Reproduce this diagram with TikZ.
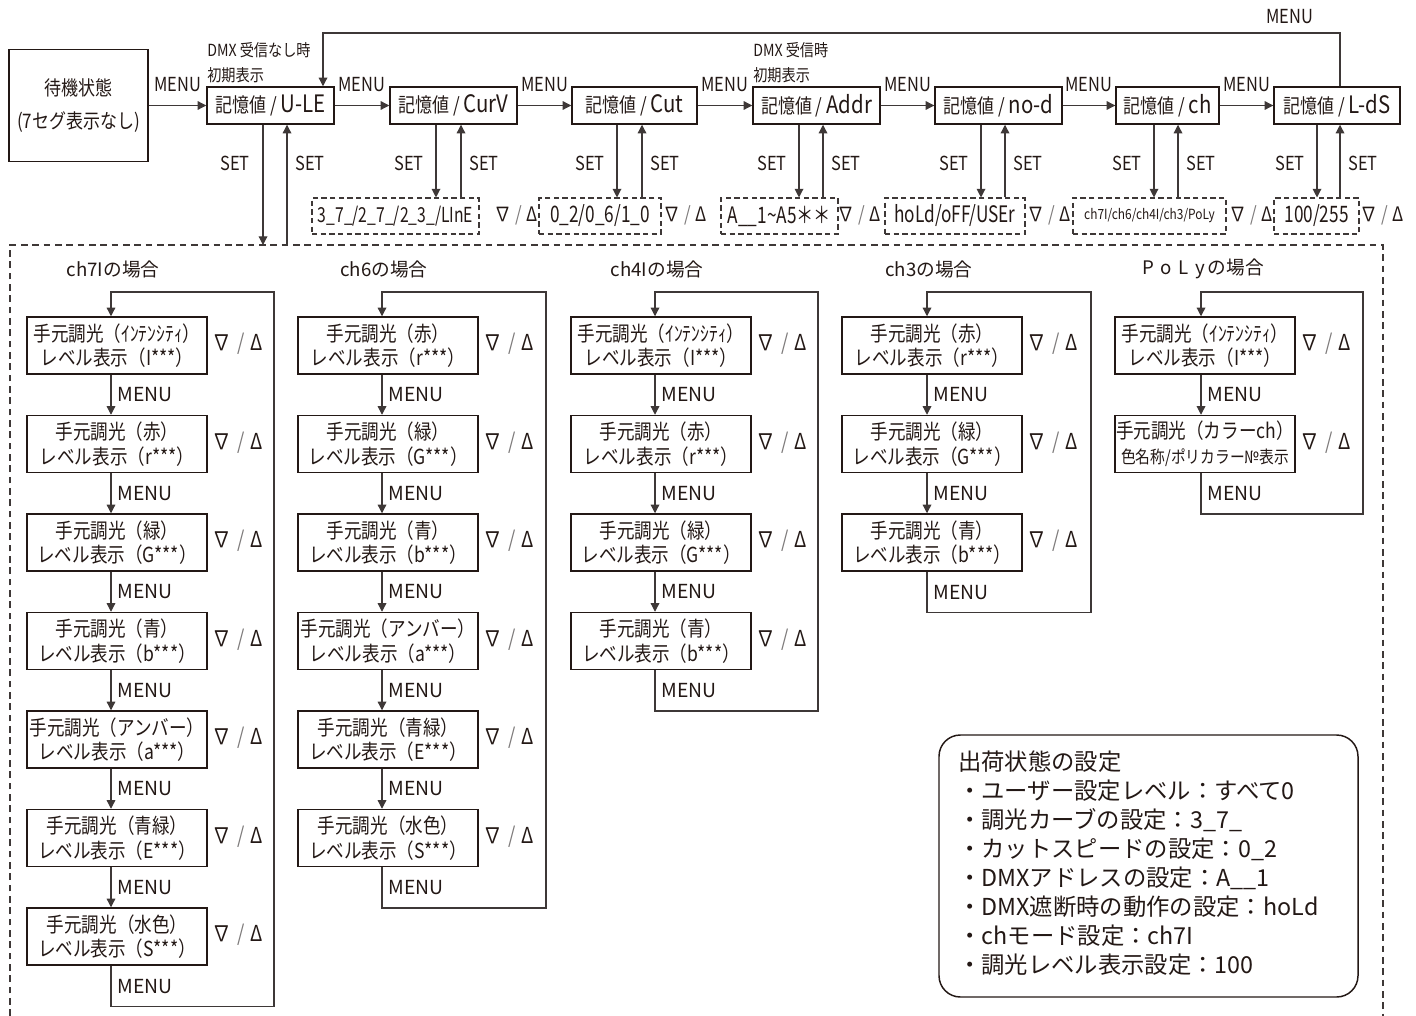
\documentclass[tikz,border=0pt]{standalone}
\usepackage{fontspec}
\setmainfont{Noto Sans CJK JP}[FakeStretch=0.85]
\newfontfamily\widefont{Noto Sans CJK JP}
\newfontfamily\condfont{Noto Sans CJK JP}[FakeStretch=0.76]
\usetikzlibrary{arrows.meta}
\definecolor{ink}{RGB}{35,24,21}
\definecolor{lin}{RGB}{62,56,55}
\definecolor{gry}{RGB}{125,122,122}
\newcommand\fbx{\fontsize{15}{18}\selectfont}
\newcommand\latx[1]{{\fontsize{18}{18}\selectfont #1}}
\newcommand\flab{\fontsize{14.5}{17}\selectfont}
\newcommand\fmenu{\widefont\fontsize{14.5}{17}\selectfont}
\newcommand\fnote{\fontsize{12.5}{15}\selectfont}
\newcommand\fval{\condfont\fontsize{17}{18}\selectfont}
\newcommand\fvalm{\condfont\fontsize{15.5}{18}\selectfont}
\newcommand\fvals{\fontsize{10.5}{12}\selectfont}
\newcommand\ftri{\fontsize{16.5}{18}\selectfont}
\newcommand\ftrit{\fontsize{15}{18}\selectfont}
\newcommand\fcol{\fontsize{15.5}{18.5}\selectfont}
\newcommand\fsub{\fontsize{13}{16}\selectfont}
\newcommand\ftitle{\widefont\fontsize{14}{16}\selectfont}
\newcommand\finfo{\widefont\fontsize{17.5}{21.75}\selectfont}
\newcommand\trisym{∇\hspace{4.5pt}\textcolor{gry}{/}\hspace{4.5pt}Δ}
\newcommand\trisymt{∇\hspace{3pt}\textcolor{gry}{/}\hspace{3pt}Δ}
% column macro: #1 id, #2 box cx, #3 arrow x, #4 loop right x, #5 last index, #6 boxes, #7 title
\newcommand\mkcol[7]{%
  \node[font=\ftitle,inner sep=0pt] (#1title) at ({#3+2},269) {#7};
  \coordinate (#1top) at (#3,292);
  \foreach \txt [count=\i from 0] in {#6} {
    \node[cbox] (#1\i) at (#2,{345.5+98.5*\i}) {\txt};
    \node[trin] (#1t\i) at ({#2+121},{344+98.5*\i}) {\trisym};
  }
  \foreach \i [evaluate=\i as \j using int(\i-1)] in {1,...,#5} {
    \draw[arr] (#1\j.south -| #1top) -- (#1\i.north -| #1top) node[midway,menuv] (#1m\i) {MENU};
  }
  \coordinate (#1bot) at (#4,{345.5+98.5*#5+70});
  \draw[arr] (#1#5.south -| #1top) |- (#1bot) node[pos=0.25,menuv] (#1mlast) {MENU}
     |- (#1top) -- (#10.north -| #1top);
}
\begin{document}
\begin{tikzpicture}[x=0.75pt,y=-0.75pt,
  every node/.style={text=ink},
  tbox/.style={draw=ink,line width=1.1pt,inner sep=0pt,minimum width=#1*0.75pt,minimum height=37*0.75pt,font=\fbx},
  vbox/.style={draw=lin,line width=0.8pt,dash pattern=on 4pt off 2.5pt,inner sep=0pt,minimum width=#1*0.75pt,minimum height=36*0.75pt,font=\fval},
  cbox/.style={draw=ink,line width=1.1pt,inner sep=0pt,minimum width=180*0.75pt,minimum height=57*0.75pt,align=center,font=\fcol},
  ln/.style={draw=lin,line width=0.9pt},
  arr/.style={ln,-{Triangle[length=6.5pt,width=6.5pt]}},
  lab/.style={font=\flab,inner sep=0pt},
  menuv/.style={font=\fmenu,inner sep=0pt,anchor=west,xshift=4.5pt},
  trin/.style={font=\ftri,inner sep=0pt},
  trtop/.style={font=\ftrit,inner sep=0pt},
]
\useasboundingbox (0,0) rectangle (1416,1016);

% ---------- top row ----------
\node[tbox=139,minimum height=112*0.75pt,align=center] (wait) at (78.5,105.5) {待機状態\\[7pt](7セグ表示なし)};
\node[tbox=127] (ule)  at (270.5,105.5) {記憶値 / \latx{U-LE}};
\node[tbox=127] (curv) at (453.5,105.5) {記憶値 / \latx{CurV}};
\node[tbox=125] (cut)  at (634.5,105.5) {記憶値 / \latx{Cut}};
\node[tbox=127] (addr) at (816.5,105.5) {記憶値 / \latx{Addr}};
\node[tbox=127] (nod)  at (998.5,105.5) {記憶値 / \latx{no-d}};
\node[tbox=103] (chm)  at (1167.5,105.5) {記憶値 / \latx{ch}};
\node[tbox=126] (lds)  at (1337,105.5) {記憶値 / \latx{L-dS}};

\foreach \a/\b in {wait/ule,ule/curv,curv/cut,cut/addr,addr/nod,nod/chm,chm/lds}
  \draw[arr] (\a.east) -- (\b.west) node[midway,lab,yshift=16pt] (m\a) {MENU};

\node[font=\fnote,anchor=west,inner sep=0pt] (n1) at (207,50) {DMX 受信なし時};
\node[font=\fnote,anchor=west,inner sep=0pt] (n2) at (207,75) {初期表示};
\node[font=\fnote,anchor=west,inner sep=0pt] (n3) at (753,50) {DMX 受信時};
\node[font=\fnote,anchor=west,inner sep=0pt] (n4) at (753,75) {初期表示};

% feedback MENU loop
\coordinate (fbR) at (1340,33);
\coordinate (fbL) at (323,33);
\draw[arr] (lds.north -| fbR) -- (fbR) -- (fbL) -- (ule.north -| fbL);
\node[lab] (fbm) at (1290,17) {MENU};

% dashed frame
\coordinate (frTL) at (10,245);
\coordinate (frTR) at (1383,245);
\coordinate (frBL) at (10,1016);
\coordinate (frBR) at (1383,1016);
\draw[draw=lin,line width=0.8pt,dash pattern=on 5pt off 3.5pt] (frBL) -- (frTL) -- (frTR) -- (frBR);

% value boxes
\node[vbox=167,font=\fvalm] (vcurv) at (395.5,216) {3\_7\_/2\_7\_/2\_3\_/LInE};
\node[vbox=122] (vcut)  at (600,216) {0\_2/0\_6/1\_0};
\node[vbox=117] (vaddr) at (779.5,216) {A\_\_1\textasciitilde A5＊＊};
\node[vbox=140] (vnod)  at (955,216) {hoLd/oFF/USEr};
\node[vbox=153,font=\fvals] (vch) at (1149.5,216) {ch7I/ch6/ch4I/ch3/PoLy};
\node[vbox=85]  (vlds)  at (1316.5,216) {100/255};

\node[trtop] (tcurv) at (516,215) {\trisymt};
\node[trtop] (tcut)  at (685,215) {\trisymt};
\node[trtop] (taddr) at (859,215) {\trisymt};
\node[trtop] (tnod)  at (1049,215) {\trisymt};
\node[trtop] (tch)   at (1251,215) {\trisymt};
\node[trtop] (tlds)  at (1382,215) {\trisymt};

% SET arrows
\draw[arr] (ule.south -| 263,0) -- (frTL -| 263,0);
\draw[arr] (frTL -| 287,0) -- (ule.south -| 287,0);
\node[lab] (slule) at (235,163) {SET};
\node[lab] (suule) at (310,163) {SET};
\foreach \b/\v/\d/\u in {curv/vcurv/436/461,cut/vcut/617/642,addr/vaddr/799/823,nod/vnod/981/1005,chm/vch/1154/1178,lds/vlds/1317/1340}{
  \draw[arr] (\b.south -| \d,0) -- (\v.north -| \d,0);
  \draw[arr] (\v.north -| \u,0) -- (\b.south -| \u,0);
  \node[lab] (sl\b) at ({\d-27},163) {SET};
  \node[lab] (su\b) at ({\u+23},163) {SET};
}

% ---------- columns ----------
\mkcol{A}{117}{111}{274}{6}{%
  {手元調光（ｲﾝﾃﾝｼﾃｨ）\\レベル表示（I***）},
  {手元調光（赤）\\レベル表示（r***）},
  {手元調光（緑）\\レベル表示（G***）},
  {手元調光（青）\\レベル表示（b***）},
  {手元調光（アンバー）\\レベル表示（a***）},
  {手元調光（青緑）\\レベル表示（E***）},
  {手元調光（水色）\\レベル表示（S***）}}{ch7Iの場合}
\mkcol{B}{388}{382}{546}{5}{%
  {手元調光（赤）\\レベル表示（r***）},
  {手元調光（緑）\\レベル表示（G***）},
  {手元調光（青）\\レベル表示（b***）},
  {手元調光（アンバー）\\レベル表示（a***）},
  {手元調光（青緑）\\レベル表示（E***）},
  {手元調光（水色）\\レベル表示（S***）}}{ch6の場合}
\mkcol{C}{661}{655}{818}{3}{%
  {手元調光（ｲﾝﾃﾝｼﾃｨ）\\レベル表示（I***）},
  {手元調光（赤）\\レベル表示（r***）},
  {手元調光（緑）\\レベル表示（G***）},
  {手元調光（青）\\レベル表示（b***）}}{ch4Iの場合}
\mkcol{D}{932}{927}{1091}{2}{%
  {手元調光（赤）\\レベル表示（r***）},
  {手元調光（緑）\\レベル表示（G***）},
  {手元調光（青）\\レベル表示（b***）}}{ch3の場合}
\mkcol{E}{1205}{1201}{1363}{1}{%
  {手元調光（ｲﾝﾃﾝｼﾃｨ）\\レベル表示（I***）},
  {手元調光（カラーch）\\{\fsub 色名称/ポリカラー№表示}}}{P\hspace{5pt}o\hspace{5pt}L\hspace{5pt}y\hspace{2pt}の場合}

% ---------- info box ----------
\node[draw=ink,line width=1.1pt,rounded corners=16pt,minimum width=419*0.75pt,minimum height=262*0.75pt,inner sep=0pt] (infobox) at (1148.5,866) {};
\node[anchor=north west,inner sep=0pt,align=left,font=\finfo] (infotext) at (958,751) {出荷状態の設定\\
・ユーザー設定レベル：すべて0\\
・調光カーブの設定：3\_7\_\\
・カットスピードの設定：0\_2\\
・DMXアドレスの設定：A\_\_1\\
・DMX遮断時の動作の設定：hoLd\\
・chモード設定：ch7I\\
・調光レベル表示設定：100};
\end{tikzpicture}
\end{document}
